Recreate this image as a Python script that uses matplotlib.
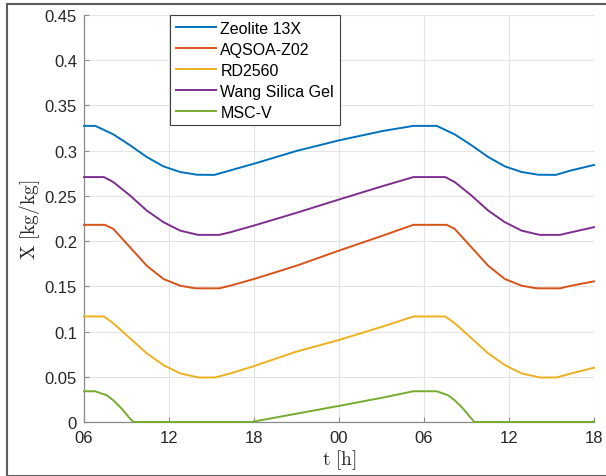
import matplotlib
matplotlib.use("Agg")
import matplotlib.pyplot as plt
from matplotlib.patches import Rectangle

plt.rcParams['font.family'] = ['Liberation Sans', 'DejaVu Sans']
plt.rcParams['mathtext.fontset'] = 'cm'

# hours since 06:00 on day one, loading X in kg/kg
t_zeo = [0, 0.8, 2.07, 3.25, 4.43, 5.61, 6.79, 7.97, 9.2, 10.33, 12, 15, 18, 21.1, 23.25,
         24.9, 26.17, 27.35, 28.53, 29.71, 30.89, 32.07, 33.3, 34.4, 36]
x_zeo = [0.3274, 0.3274, 0.318, 0.306, 0.293, 0.2826, 0.2764, 0.2734, 0.2732, 0.2782, 0.2856,
         0.2997, 0.3114, 0.3218, 0.3274, 0.3274, 0.318, 0.306, 0.293, 0.2826, 0.2764, 0.2734,
         0.2732, 0.2782, 0.2842]

t_aqs = [0, 1.48, 2.07, 3.25, 4.43, 5.61, 6.79, 7.73, 8.0, 9.55, 10.33, 12, 15, 18, 21.1, 23.25,
         25.6, 26.17, 27.35, 28.53, 29.71, 30.89, 31.83, 32.1, 33.6, 34.4, 36]
x_aqs = [0.2180, 0.2180, 0.2135, 0.1932, 0.1728, 0.1581, 0.1507, 0.1481, 0.1478, 0.1478, 0.1507,
         0.1581, 0.1728, 0.1895, 0.2061, 0.2180, 0.2180, 0.2135, 0.1932, 0.1728, 0.1581, 0.1507,
         0.1481, 0.1478, 0.1478, 0.1507, 0.1555]

t_rd = [0, 1.41, 2.07, 3.25, 4.43, 5.61, 6.79, 7.97, 8.1, 9.25, 10.33, 12, 15, 18, 21.1, 23.25,
        25.5, 26.17, 27.35, 28.53, 29.71, 30.89, 32.07, 32.2, 33.35, 34.4, 36]
x_rd = [0.1167, 0.1167, 0.1092, 0.0926, 0.0759, 0.0629, 0.0537, 0.0496, 0.0492, 0.0492, 0.0537,
        0.0618, 0.0778, 0.0907, 0.1056, 0.1167, 0.1167, 0.1092, 0.0926, 0.0759, 0.0629, 0.0537,
        0.0496, 0.0492, 0.0492, 0.0537, 0.0600]

t_wang = [0, 1.41, 2.07, 3.25, 4.43, 5.61, 6.79, 7.97, 8.1, 9.55, 10.33, 12, 15, 18, 21.1, 23.25,
          25.5, 26.17, 27.35, 28.53, 29.71, 30.89, 32.07, 32.2, 33.6, 34.4, 36]
x_wang = [0.2708, 0.2708, 0.2653, 0.2504, 0.2338, 0.2209, 0.2116, 0.2072, 0.2069, 0.2069, 0.2098,
          0.2172, 0.2313, 0.2460, 0.2609, 0.2708, 0.2708, 0.2653, 0.2504, 0.2338, 0.2209, 0.2116,
          0.2072, 0.2069, 0.2069, 0.2098, 0.2154]

t_msc = [0, 0.78, 1.6, 2.07, 2.66, 3.25, 3.49, 11.8, 15, 18, 21.1, 23.25,
         24.9, 25.7, 26.17, 26.76, 27.35, 27.55, 35.8, 36]
x_msc = [0.034, 0.034, 0.0296, 0.024, 0.0148, 0.0037, 0.0, 0.0, 0.0092, 0.0178, 0.027, 0.034,
         0.034, 0.0296, 0.024, 0.0148, 0.0037, 0.0, 0.0, 0.0006]

names = ['Zeolite 13X', 'AQSOA-Z02', 'RD2560', 'Wang Silica Gel', 'MSC-V']
colors = ['#0072BD', '#D95319', '#EDB120', '#7E2F8E', '#77AC30']

xticks = [0, 6, 12, 18, 24, 30, 36]
xticklabels = ['06', '12', '18', '00', '06', '12', '18']
yticks = [0, 0.05, 0.1, 0.15, 0.2, 0.25, 0.3, 0.35, 0.4, 0.45]
yticklabels = ['0', '0.05', '0.1', '0.15', '0.2', '0.25', '0.3', '0.35', '0.4', '0.45']

fig = plt.figure(figsize=(6.06, 4.77), dpi=100)
ax = fig.add_axes([84 / 606, 1 - 423 / 477, 510 / 606, 407 / 477])

series = [(t_zeo, x_zeo), (t_aqs, x_aqs), (t_rd, x_rd), (t_wang, x_wang), (t_msc, x_msc)]
for (t, x), name, c in zip(series, names, colors):
    ax.plot(t, x, color=c, lw=1.4, label=name, zorder=3, clip_on=False,
            solid_joinstyle='round')

ax.set_xlim(0, 36)
ax.set_ylim(0, 0.45)
ax.set_xticks(xticks)
ax.set_xticklabels(xticklabels)
ax.set_yticks(yticks)
ax.set_yticklabels(yticklabels)
ax.grid(True, color='#e4e4e4', lw=0.8)
ax.set_axisbelow(True)
for s in ['top', 'right']:
    ax.spines[s].set_visible(False)
for s in ['left', 'bottom']:
    ax.spines[s].set_color('#8a8a8a')
    ax.spines[s].set_linewidth(0.9)
ax.tick_params(direction='in', length=3.5, width=0.8, color='#8a8a8a',
               labelsize=12, labelcolor='#262626')
ax.tick_params(axis='x', pad=6)
ax.tick_params(axis='y', pad=5)

ax.set_xlabel(r'$\mathrm{t\ [h]}$', fontsize=14, color='#262626', labelpad=1)
ax.set_ylabel(r'$\mathrm{X\ [kg/kg]}$', fontsize=14, color='#262626', labelpad=2)

leg = ax.legend(loc='upper left', bbox_to_anchor=((170 - 84) / 510, 1.0), borderaxespad=0,
                fontsize=11.5, fancybox=False, framealpha=1, edgecolor='#404040',
                handlelength=2.5, handletextpad=0.3, labelspacing=0.38,
                borderpad=0.35)
leg.get_frame().set_linewidth(0.8)
leg.set_zorder(5)

fig.add_artist(Rectangle((6.5 / 606, 0.5 / 477), 1.0, 1 - 5.5 / 477, transform=fig.transFigure,
                         fill=False, ec='#5c5c5c', lw=1.5))

fig.savefig('out.png', dpi=100)
